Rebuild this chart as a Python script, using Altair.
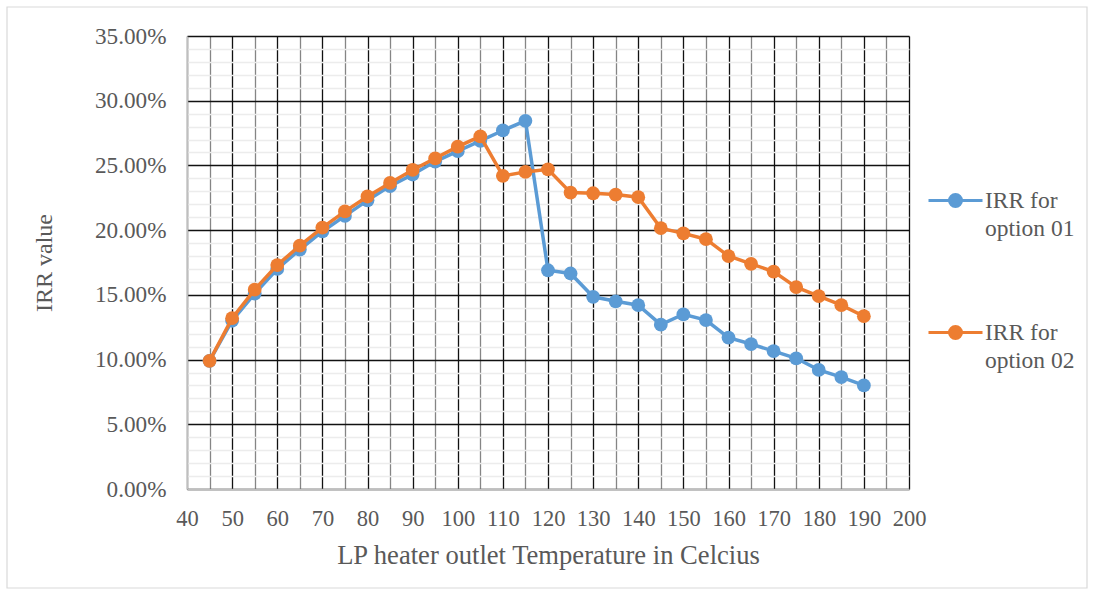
import altair as alt
import pandas as pd

temps = [45, 50, 55, 60, 65, 70, 75, 80, 85, 90, 95, 100, 105, 110, 115,
         120, 125, 130, 135, 140, 145, 150, 155, 160, 165, 170, 175, 180, 185, 190]
option01 = [9.9, 13.0, 15.1, 17.0, 18.5, 19.9, 21.1, 22.3, 23.4, 24.3,
            25.3, 26.1, 26.9, 27.7, 28.45, 16.9, 16.65, 14.85, 14.5, 14.2,
            12.7, 13.5, 13.05, 11.7, 11.2, 10.65, 10.1, 9.2, 8.65, 8.0]
option02 = [9.9, 13.2, 15.4, 17.3, 18.8, 20.2, 21.45, 22.6, 23.65, 24.65,
            25.55, 26.45, 27.25, 24.2, 24.5, 24.7, 22.9, 22.85, 22.75, 22.55,
            20.15, 19.75, 19.3, 18.0, 17.4, 16.8, 15.6, 14.9, 14.2, 13.35]
series_names = ["IRR for|option 01", "IRR for|option 02"]
series_colors = ["#5b9bd5", "#ed7d31"]

x_ticks = list(range(40, 201, 5))
y_ticks = [i / 100 for i in range(0, 36)]

rows = []
for t, v in zip(temps, option01):
    rows.append({"temp": t, "irr": v / 100, "series": series_names[0]})
for t, v in zip(temps, option02):
    rows.append({"temp": t, "irr": v / 100, "series": series_names[1]})
df = pd.DataFrame(rows)

FONT = "Liberation Serif"
TXT = "#595959"

sym_path = ("M-1,0L1,0M-0.222,0A0.222,0.222,0,1,1,0.222,0"
            "A0.222,0.222,0,1,1,-0.222,0Z")

def make_legend():
    return alt.Legend(
        title=None, orient="none", legendX=740, legendY=136,
        symbolType=sym_path, symbolSize=2916, symbolStrokeWidth=3,
        labelExpr="split(datum.label, '|')", labelFont=FONT, labelFontSize=23.5,
        labelColor=TXT, labelOffset=1, rowPadding=64, labelLimit=300,
    )

x_enc = alt.X(
    "temp:Q",
    scale=alt.Scale(domain=[40, 200], nice=False, zero=False),
    axis=alt.Axis(
        values=x_ticks, title="LP heater outlet Temperature in Celcius",
        labelExpr="datum.value % 10 === 0 ? datum.label : ''",
        grid=True,
        gridColor={"condition": {"test": "datum.value % 10 === 0", "value": "#111111"},
                   "value": "#858585"},
        gridWidth=1.3, ticks=False, domainColor="#bfbfbf", domainWidth=1.5,
        labelFont=FONT, labelFontSize=22.5, labelColor=TXT, labelPadding=18,
        labelFlush=False, labelOverlap=False,
        titleFont=FONT, titleFontSize=26.6, titleColor=TXT, titleFontWeight="normal",
        titlePadding=13,
    ),
)
y_enc = alt.Y(
    "irr:Q",
    scale=alt.Scale(domain=[0, 0.35], nice=False),
    axis=alt.Axis(
        values=y_ticks, format=".2%", title="IRR value",
        labelExpr="round(datum.value * 100) % 5 === 0 ? datum.label : ''",
        grid=True,
        gridColor={"condition": {"test": "round(datum.value * 100) % 5 === 0",
                                 "value": "#111111"},
                   "value": "#ececec"},
        gridWidth=1.3, ticks=False, domainColor="#bfbfbf", domainWidth=1.5,
        labelFont=FONT, labelFontSize=23.2, labelColor=TXT, labelPadding=21,
        labelOverlap=False, labelFlush=False,
        titleFont=FONT, titleFontSize=24, titleColor=TXT, titleFontWeight="normal",
        titlePadding=38,
    ),
)
color_scale = alt.Scale(domain=series_names, range=series_colors)

base = alt.Chart(df)
layers = []
for name in series_names:
    sub = base.transform_filter(alt.datum.series == name)
    layers.append(sub.mark_line(strokeWidth=3.5).encode(
        x=x_enc, y=y_enc,
        stroke=alt.Stroke("series:N", scale=color_scale, legend=make_legend())))
    layers.append(sub.mark_circle(size=190, opacity=1).encode(
        x=x_enc, y=y_enc,
        fill=alt.Fill("series:N", scale=color_scale, legend=make_legend())))

frame = alt.Chart(alt.Data(values=[{}])).mark_rect(
    fill=None, stroke="#d9d9d9", strokeWidth=1.2
).encode(x=alt.value(-180), x2=alt.value(900), y=alt.value(-29), y2=alt.value(552))

chart = alt.layer(frame, *layers).properties(
    width=722, height=453,
    autosize=alt.AutoSizeParams(type="none"),
    padding={"left": 187, "top": 36, "right": 190, "bottom": 106},
).configure_view(stroke=None).configure(
    background="white",
    style={"guide-label": {"lineHeight": 28}},
)

chart.save("out.html", embed_options={"renderer": "svg", "actions": False})
